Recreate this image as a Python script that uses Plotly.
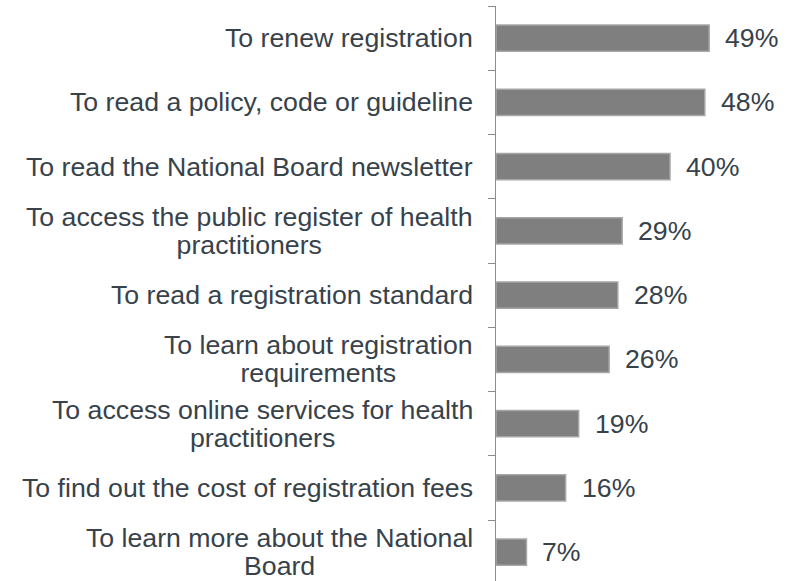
import plotly.graph_objects as go

categories = [
    "To renew registration",
    "To read a policy, code or guideline",
    "To read the National Board newsletter",
    "To access the public register of health<br>practitioners",
    "To read a registration standard",
    "To learn about registration<br>requirements",
    "To access online services for health<br>practitioners",
    "To find out the cost of registration fees",
    "To learn more about the National<br>Board",
]
values = [49, 48, 40, 29, 28, 26, 19, 16, 7]

TEXT_COLOR = "#37424b"
FONT = "Liberation Sans, Arial, sans-serif"
FS = 26.7

fig = go.Figure()
fig.add_trace(go.Bar(
    x=values,
    y=categories,
    orientation="h",
    width=0.41,
    marker=dict(color="#7f7f7f", line=dict(color="#a6a6a6", width=1.5)),
    hoverinfo="skip",
))

annotations = []
for cat, v in zip(categories, values):
    lines = cat.split("<br>")
    txt = "<br>".join(f'<span style="font-size:{FS}px">{ln}</span>' for ln in lines)
    annotations.append(dict(
        x=0, xref="paper", y=cat, yref="y",
        text=txt, showarrow=False, xanchor="right", yanchor="middle",
        align="center", xshift=-21,
        font=dict(family=FONT, size=21.5, color=TEXT_COLOR),
    ))
    annotations.append(dict(
        x=v, xref="x", y=cat, yref="y",
        text=f"{v}%", showarrow=False, xanchor="left", yanchor="middle",
        xshift=14,
        font=dict(family=FONT, size=FS, color=TEXT_COLOR),
    ))

fig.update_layout(
    width=793, height=581,
    margin=dict(l=496, r=36, t=6, b=0, pad=0),
    paper_bgcolor="white", plot_bgcolor="white",
    showlegend=False,
    annotations=annotations,
    xaxis=dict(visible=False, range=[0, 60], showgrid=False, zeroline=False),
    yaxis=dict(
        type="category",
        categoryorder="array", categoryarray=categories,
        range=[8.449, -0.5],
        showticklabels=False,
        showgrid=False, zeroline=False,
        showline=True, linecolor="#8c8c8c", linewidth=1,
        ticks="outside", ticklen=7, tickcolor="#8c8c8c", tickwidth=1,
        tickson="boundaries",
    ),
)

fig.write_html(
    "out.html",
    config={"displayModeBar": False},
    post_script="document.body.style.margin='0';document.body.style.overflow='hidden';",
)
